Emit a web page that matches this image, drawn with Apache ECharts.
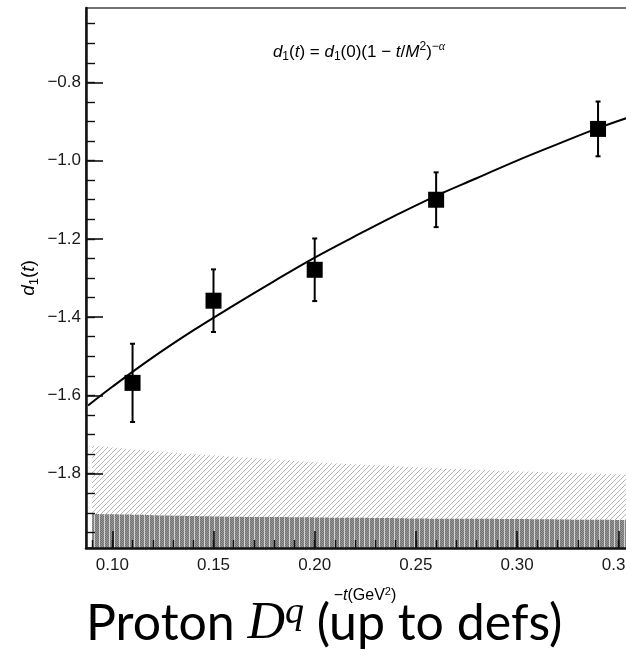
<!DOCTYPE html>
<html>
<head>
<meta charset="utf-8">
<script src="https://cdn.jsdelivr.net/npm/echarts@6/dist/echarts.min.js"></script>
<style>
  html, body { margin: 0; padding: 0; overflow: hidden; background: #fff; }
  #c { width: 700px; height: 650px; }
</style>
</head>
<body>
<div id="c"></div>
<script>
// ---- data ----
const pointT = [0.11, 0.15, 0.20, 0.26, 0.34];
const pointD = [-1.568, -1.358, -1.279, -1.100, -0.919];
const pointErr = [0.10, 0.08, 0.08, 0.07, 0.07];

const fitT = [0.088, 0.10, 0.12, 0.14, 0.16, 0.18, 0.20, 0.22, 0.24, 0.26, 0.28, 0.30, 0.32, 0.34, 0.36, 0.38];
const fitD = [-1.626, -1.578, -1.503, -1.434, -1.370, -1.308, -1.248, -1.193, -1.140, -1.090, -1.045, -1.000, -0.958, -0.917, -0.881, -0.846];

const bandT = [0.09, 0.10, 0.12, 0.14, 0.16, 0.18, 0.20, 0.22, 0.24, 0.26, 0.28, 0.30, 0.32, 0.34, 0.36, 0.38];
const lightBandTop = [-1.728, -1.733, -1.742, -1.750, -1.757, -1.764, -1.771, -1.776, -1.781, -1.786, -1.790, -1.794, -1.797, -1.800, -1.803, -1.806];
const darkBandTop = [-1.903, -1.904, -1.906, -1.908, -1.910, -1.911, -1.912, -1.913, -1.914, -1.915, -1.915, -1.916, -1.917, -1.918, -1.919, -1.920];

const xTickValues = [0.10, 0.15, 0.20, 0.25, 0.30, 0.35];
const xTickLabels = ['0.10', '0.15', '0.20', '0.25', '0.30', '0.35'];
const xMinorValues = [0.09, 0.10, 0.11, 0.12, 0.13, 0.14, 0.15, 0.16, 0.17, 0.18, 0.19, 0.20, 0.21, 0.22, 0.23, 0.24, 0.25, 0.26, 0.27, 0.28, 0.29, 0.30, 0.31, 0.32, 0.33, 0.34, 0.35, 0.36, 0.37];
const yTickValues = [-1.8, -1.6, -1.4, -1.2, -1.0, -0.8];
const yTickLabels = ['\u22121.8', '\u22121.6', '\u22121.4', '\u22121.2', '\u22121.0', '\u22120.8'];
const yMinorValues = [-1.95, -1.90, -1.85, -1.80, -1.75, -1.70, -1.65, -1.60, -1.55, -1.50, -1.45, -1.40, -1.35, -1.30, -1.25, -1.20, -1.15, -1.10, -1.05, -1.00, -0.95, -0.90, -0.85, -0.80, -0.75, -0.70, -0.65];

const X_MIN = 0.087, X_MAX = 0.38, Y_MIN = -1.99, Y_MAX = -0.61;

// ---- hatch patterns ----
function lightHatch() {
  const s = 5, c = document.createElement('canvas');
  c.width = s; c.height = s;
  const g = c.getContext('2d');
  g.strokeStyle = '#b4b4b4'; g.lineWidth = 1;
  g.beginPath();
  g.moveTo(-1, s + 1); g.lineTo(s + 1, -1);
  g.moveTo(-1, 1); g.lineTo(1, -1);
  g.moveTo(s - 1, s + 1); g.lineTo(s + 1, s - 1);
  g.stroke();
  return c;
}
function darkHatch() {
  const w = 5, h = 4, c = document.createElement('canvas');
  c.width = w; c.height = h;
  const g = c.getContext('2d');
  g.fillStyle = '#727272'; g.fillRect(0, 0, w, h);
  g.fillStyle = '#969696';
  for (let yy = 0; yy < h; yy++) for (let xx = 0; xx < w - 1; xx++) if ((xx + yy) % 2 === 0) g.fillRect(xx, yy, 1, 1);
  g.fillStyle = '#d2d2d2'; g.fillRect(w - 1, 0, 1, h);
  return c;
}

function pick(values, labels) {
  return function (v) {
    const i = values.findIndex(t => Math.abs(t - v) < 1e-9);
    return i >= 0 ? labels[i] : '';
  };
}
const zip = (a, b) => a.map((v, i) => [v, b[i]]);

const chart = echarts.init(document.getElementById('c'), null, { renderer: 'canvas' });
const axisFont = 'Liberation Sans, Arial, Helvetica, sans-serif';

const option = {
  animation: false,
  backgroundColor: '#fff',
  grid: {
    left: 86, top: 8, right: 21, bottom: 102,
    show: true, borderColor: '#444', borderWidth: 1.5, backgroundColor: 'transparent',
    containLabel: false, outerBoundsMode: 'none'
  },
  xAxis: [
    {
      type: 'value', min: X_MIN, max: X_MAX, position: 'bottom', z: 10,
      axisLine: { show: true, onZero: false, lineStyle: { color: '#111', width: 2.5 } },
      axisTick: { show: true, inside: true, length: 17, customValues: xTickValues, lineStyle: { color: '#111', width: 1.6 } },
      axisLabel: { show: true, customValues: xTickValues, formatter: pick(xTickValues, xTickLabels), margin: 9, fontSize: 17, fontFamily: axisFont, color: '#1a1a1a' },
      splitLine: { show: false }
    },
    {
      type: 'value', min: X_MIN, max: X_MAX, position: 'bottom', z: 10, gridIndex: 0,
      axisLine: { show: false, onZero: false },
      axisTick: { show: true, inside: true, length: 8, customValues: xMinorValues, lineStyle: { color: '#111', width: 1.4 } },
      axisLabel: { show: false },
      splitLine: { show: false }
    }
  ],
  yAxis: [
    {
      type: 'value', min: Y_MIN, max: Y_MAX, position: 'left', z: 10,
      axisLine: { show: true, onZero: false, lineStyle: { color: '#111', width: 2.5 } },
      axisTick: { show: true, inside: true, length: 17, customValues: yTickValues, lineStyle: { color: '#111', width: 1.6 } },
      axisLabel: { show: true, customValues: yTickValues, formatter: pick(yTickValues, yTickLabels), margin: 5, fontSize: 17, fontFamily: axisFont, color: '#1a1a1a' },
      splitLine: { show: false }
    },
    {
      type: 'value', min: Y_MIN, max: Y_MAX, position: 'left', z: 10, gridIndex: 0,
      axisLine: { show: false, onZero: false },
      axisTick: { show: true, inside: true, length: 9, customValues: yMinorValues, lineStyle: { color: '#111', width: 1.4 } },
      axisLabel: { show: false },
      splitLine: { show: false }
    }
  ],
  series: [
    {
      type: 'line', name: 'light band', data: zip(bandT, lightBandTop), smooth: true, symbol: 'none', z: 1,
      lineStyle: { width: 0, opacity: 0 },
      areaStyle: { origin: 'start', opacity: 1, color: { image: lightHatch(), repeat: 'repeat' } },
      silent: true
    },
    {
      type: 'line', name: 'dark band', data: zip(bandT, darkBandTop), smooth: true, symbol: 'none', z: 2,
      lineStyle: { width: 0, opacity: 0 },
      areaStyle: { origin: 'start', opacity: 1, color: { image: darkHatch(), repeat: 'repeat' } },
      silent: true
    },
    {
      type: 'line', name: 'fit', data: zip(fitT, fitD), smooth: 0.4, symbol: 'none', z: 3,
      lineStyle: { color: '#000', width: 2 }, clip: true
    },
    {
      type: 'custom', name: 'errors', z: 4,
      data: pointT.map((t, i) => [t, pointD[i], pointErr[i]]),
      renderItem: function (params, api) {
        const x = api.value(0), y = api.value(1), e = api.value(2);
        const top = api.coord([x, y + e]);
        const bot = api.coord([x, y - e]);
        const cap = 2.5;
        const st = { stroke: '#000', lineWidth: 2 };
        return {
          type: 'group',
          children: [
            { type: 'line', shape: { x1: top[0], y1: top[1], x2: bot[0], y2: bot[1] }, style: st },
            { type: 'line', shape: { x1: top[0] - cap, y1: top[1], x2: top[0] + cap, y2: top[1] }, style: st },
            { type: 'line', shape: { x1: bot[0] - cap, y1: bot[1], x2: bot[0] + cap, y2: bot[1] }, style: st }
          ]
        };
      }
    },
    {
      type: 'scatter', name: 'points', data: zip(pointT, pointD), symbol: 'rect', symbolSize: 16, z: 5,
      itemStyle: { color: '#000', opacity: 1 }
    }
  ],
  graphic: [
    {
      type: 'text', x: 359, y: 52, z: 20,
      style: {
        text: '{i|d}{s|1}{n|(}{i|t}{n|) = }{i|d}{s|1}{n|(0)(1 \u2212 }{i|t}{n|/}{i|M}{p|2}{n|)}{p|\u2212}{pi|\u03b1}',
        align: 'center', verticalAlign: 'middle',
        rich: {
          n: { fontSize: 17, fontFamily: axisFont, color: '#111', lineHeight: 22 },
          i: { fontSize: 17, fontFamily: axisFont, fontStyle: 'italic', color: '#111', lineHeight: 22 },
          s: { fontSize: 12, fontFamily: axisFont, color: '#111', lineHeight: 12, verticalAlign: 'bottom' },
          p: { fontSize: 12, fontFamily: axisFont, color: '#111', lineHeight: 12, verticalAlign: 'top' },
          pi: { fontSize: 12, fontFamily: 'Liberation Serif, serif', fontStyle: 'italic', color: '#111', lineHeight: 12, verticalAlign: 'top' }
        }
      }
    },
    {
      type: 'text', x: 29, y: 278, rotation: Math.PI / 2, z: 20,
      style: {
        text: '{i|d}{s|1}{n|(}{i|t}{n|)}',
        align: 'center', verticalAlign: 'middle',
        rich: {
          n: { fontSize: 19, fontFamily: axisFont, color: '#111', lineHeight: 24 },
          i: { fontSize: 19, fontFamily: axisFont, fontStyle: 'italic', color: '#111', lineHeight: 24 },
          s: { fontSize: 13, fontFamily: axisFont, color: '#111', lineHeight: 14, verticalAlign: 'bottom' }
        }
      }
    },
    {
      type: 'text', x: 365, y: 596, z: 20,
      style: {
        text: '{n|\u2212}{i|t}{n|(GeV}{p|2}{n|)}',
        align: 'center', verticalAlign: 'middle',
        rich: {
          n: { fontSize: 16, fontFamily: axisFont, color: '#111', lineHeight: 20 },
          i: { fontSize: 16, fontFamily: axisFont, fontStyle: 'italic', color: '#111', lineHeight: 20 },
          p: { fontSize: 11, fontFamily: axisFont, color: '#111', lineHeight: 11, verticalAlign: 'top' }
        }
      }
    },
    {
      type: 'text', x: 86, y: 594, z: 20,
      style: {
        text: '{a|Proton }{d|D}{q|q}{a| (up to defs)}',
        align: 'left', verticalAlign: 'top',
        rich: {
          a: { fontSize: 50, fontFamily: 'Lato, Open Sans, sans-serif', color: '#000', lineHeight: 60 },
          d: { fontSize: 52, fontFamily: 'Liberation Serif, serif', fontStyle: 'italic', color: '#000', lineHeight: 60 },
          q: { fontSize: 38, fontFamily: 'Liberation Serif, serif', fontStyle: 'italic', color: '#000', lineHeight: 34, verticalAlign: 'top' }
        }
      }
    }
  ]
};
chart.setOption(option);
</script>
</body>
</html>
